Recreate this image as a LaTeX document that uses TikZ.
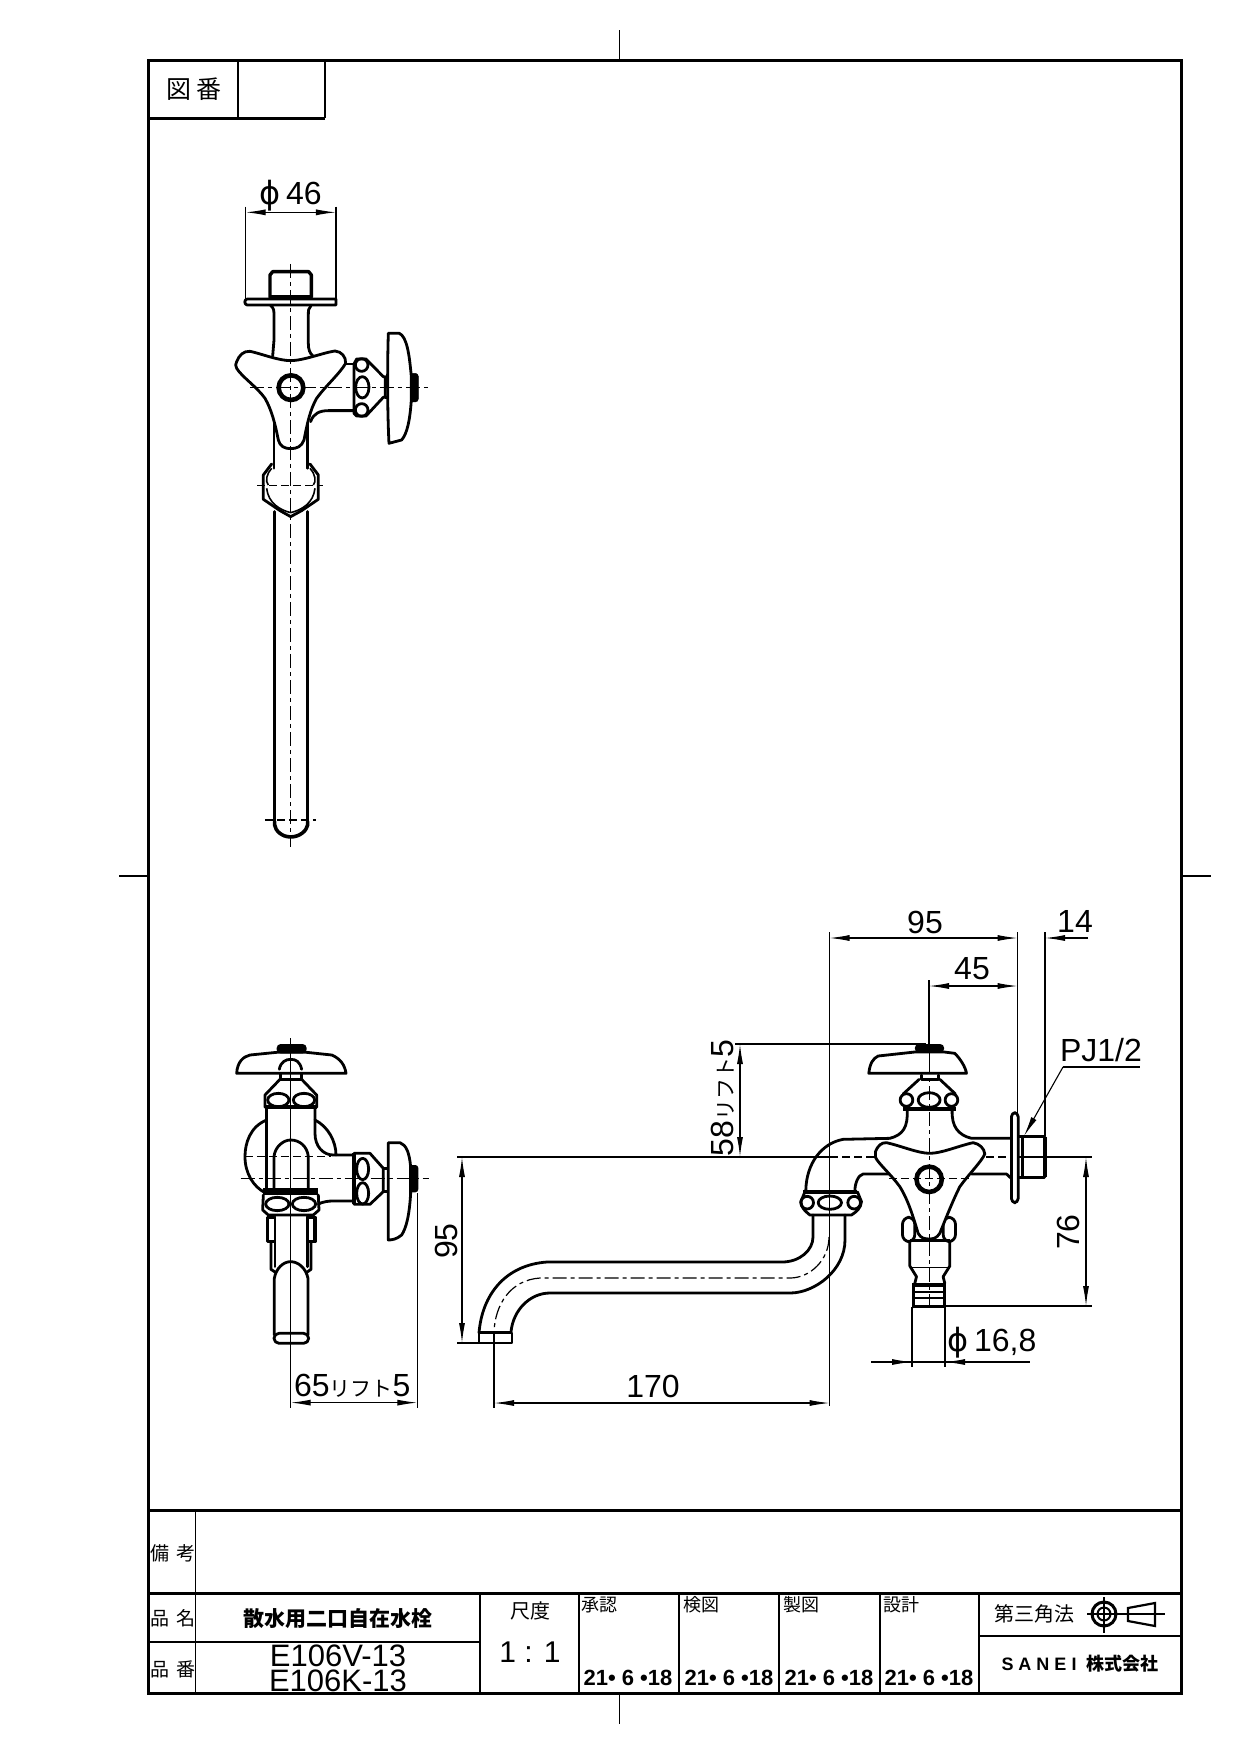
\documentclass[tikz,border=0pt]{standalone}
\usepackage{fontspec}
\setmainfont{Liberation Sans}
\newfontfamily\cjk{Noto Sans CJK JP}
\newfontfamily\djv{DejaVu Sans}
\usetikzlibrary{arrows.meta}
\tikzset{
 frm/.style={line width=3pt},
 cell/.style={line width=1.6pt},
 obj/.style={line width=2.8pt,line join=round,line cap=round},
 fat/.style={line width=4pt,line cap=butt},
 dimln/.style={line width=1.1pt},
 cen/.style={line width=1.2pt,dash pattern=on 14pt off 4pt on 4pt off 4pt},
 dsh/.style={line width=1.2pt,dash pattern=on 8pt off 4pt},
 tipa/.style={-{Latex[length=20pt,width=6pt]}},
 both/.style={{Latex[length=20pt,width=6pt]}-{Latex[length=20pt,width=6pt]}},
 dimtxt/.style={font=\fontsize{32}{32}\selectfont,inner sep=0pt},
 cjktxt/.style={font=\cjk\fontsize{19}{19}\selectfont,inner sep=0pt},
 datetxt/.style={font=\bfseries\fontsize{22}{22}\selectfont,inner sep=0pt},
}
\newcommand{\phisym}{{\djv ϕ}}
\begin{document}
\begin{tikzpicture}[x=1pt,y=-1pt]
\useasboundingbox (0,0) rectangle (1240,1754);
\fill[white] (0,0) rectangle (1240,1754);
% frame
\draw[frm] (148.5,60) rectangle (1181,1693);
\draw[line width=1.6pt] (619.5,30) -- (619.5,60);
\draw[line width=1.6pt] (619.5,1693) -- (619.5,1724);
\draw[line width=1.6pt] (119,876) -- (148,876);
\draw[line width=1.6pt] (1181,876) -- (1211,876);
% title box
\draw[cell] (238,60) -- (238,118);
\draw[cell] (325,60) -- (325,118);
\draw[line width=2.2pt] (148,118.5) -- (325,118.5);
\node[cjktxt,font=\cjk\fontsize{25}{25}\selectfont] (zuban) at (194,89) {図\,番};
% table
\draw[frm] (148,1510) -- (1181,1510);
\draw[frm] (148,1593) -- (1181,1593);
\draw[cell] (195.5,1510) -- (195.5,1693);
\draw[cell] (148,1642) -- (480,1642);
\draw[cell] (480,1593) -- (480,1693);
\draw[cell] (579,1593) -- (579,1693);
\draw[cell] (679,1593) -- (679,1693);
\draw[cell] (779,1593) -- (779,1693);
\draw[line width=1.6pt] (880,1593) -- (880,1693);
\draw[line width=2.2pt] (979,1593) -- (979,1693);
\draw[cell] (979,1636) -- (1181,1636);
\node[cjktxt,font=\cjk\fontsize{19}{19}\selectfont] (bikou) at (173,1553) {備\,\,考};
\node[cjktxt,font=\cjk\fontsize{19}{19}\selectfont] (hinmei) at (173,1618) {品\,\,名};
\node[cjktxt,font=\cjk\fontsize{19}{19}\selectfont] (hinban) at (173,1669) {品\,\,番};
\node[cjktxt,font=\cjk\bfseries\fontsize{21}{21}\selectfont] (title) at (338,1619) {散水用二口自在水栓};
\node[dimtxt,font=\fontsize{31}{31}\selectfont] (codeA) at (338,1656) {E106V-13};
\node[dimtxt,font=\fontsize{31}{31}\selectfont] (codeB) at (338,1681) {E106K-13};
\node[cjktxt,font=\cjk\fontsize{20}{20}\selectfont] (shakudo) at (530,1611) {尺度};
\node[dimtxt,font=\fontsize{30}{30}\selectfont] (scale) at (530,1652) {1 : 1};
\node[cjktxt,font=\cjk\fontsize{18}{18}\selectfont] (shonin) at (599,1605) {承認};
\node[cjktxt,font=\cjk\fontsize{18}{18}\selectfont] (kenzu) at (701,1605) {検図};
\node[cjktxt,font=\cjk\fontsize{18}{18}\selectfont] (seizu) at (801,1605) {製図};
\node[cjktxt,font=\cjk\fontsize{18}{18}\selectfont] (sekkei) at (901,1605) {設計};
\node[datetxt] (d1) at (628,1678) {21• 6 •18};
\node[datetxt] (d2) at (729,1678) {21• 6 •18};
\node[datetxt] (d3) at (829,1678) {21• 6 •18};
\node[datetxt] (d4) at (929,1678) {21• 6 •18};
\node[cjktxt,font=\cjk\fontsize{20}{20}\selectfont] (sanka) at (1034,1614) {第三角法};
\node[inner sep=0pt,font=\bfseries\fontsize{18}{18}\selectfont] (sanei) at (1080,1664) {S A N E I\; {\cjk 株式会社}};
% projection symbol
\draw[line width=3pt] (1104,1614) circle (12);
\draw[line width=2pt] (1104,1614) circle (6.5);
\draw[line width=1.2pt] (1087,1614) -- (1124,1614);
\draw[line width=1.2pt] (1104,1597) -- (1104,1633);
\draw[line width=2.2pt] (1128,1608) -- (1155,1603) -- (1155,1626) -- (1128,1621) -- cycle;
\draw[line width=1.2pt] (1122,1614) -- (1165,1614);

% ===== top-left view, zoom coordinates
\begin{scope}[shift={(200,160)},x=0.3333pt,y=-0.3333pt]
\draw[dimln] (137,140) -- (137,420);
\draw[dimln] (408,140) -- (408,420);
\draw[dimln,both] (137,157) -- (408,157);
\node[dimtxt] (d46) at (272,108) {\phisym\,46};
\draw[obj,line width=3.4pt] (210,412) -- (210,345) -- (218,335) -- (326,335) -- (334,345) -- (334,412);
\draw[fat] (210,411) -- (334,411);
\draw[obj] (142,417) -- (408,417) -- (408,435) -- (142,435) .. controls (132,435) and (132,417) .. (142,417);
\draw[obj] (212,437) .. controls (222,445) and (222,450) .. (222,470) -- (222,540) -- (218,588);
\draw[obj] (333,437) .. controls (325,445) and (325,450) .. (325,470) -- (325,550) .. controls (325,570) and (330,580) .. (338,587);
% handle
\draw[obj,fill=white] (110,605) .. controls (118,585) and (130,573) .. (150,574) .. controls (180,580) and (235,602) .. (272,602) .. controls (310,602) and (370,578) .. (405,573) .. controls (425,575) and (438,590) .. (437,610) .. controls (420,640) and (375,680) .. (350,715) .. controls (330,750) and (322,790) .. (312,840) .. controls (305,860) and (290,866) .. (272,866) .. controls (255,866) and (240,860) .. (235,840) .. controls (225,790) and (215,750) .. (195,715) .. controls (170,680) and (125,650) .. (110,625) .. controls (106,618) and (106,612) .. (110,605) -- cycle;
\draw[line width=4.6pt] (273,683) circle (37);
\draw[obj] (437,612) -- (465,612);
\draw[obj] (332,785) .. controls (340,760) and (360,752) .. (385,752) -- (465,752);
\draw[obj,fill=white] (462,612) -- (470,597) -- (498,597) -- (550,650) -- (556,650) -- (556,712) -- (550,712) -- (498,768) -- (470,768) -- (462,760) -- cycle;
\draw[obj] (485,615) circle (19);
\draw[obj] (487,682) ellipse (20 and 32);
\draw[obj] (485,750) circle (19);
\draw[obj] (556,652) -- (566,652);
\draw[obj] (556,712) -- (566,712);
\draw[fill=black,rounded corners=3pt] (628,640) rectangle (655,726);
\draw[obj,fill=white] (565,520) -- (598,520) .. controls (620,530) and (628,580) .. (634,650) -- (634,720) .. controls (630,780) and (622,820) .. (605,840) -- (567,850) .. controls (562,750) and (562,620) .. (565,520) -- cycle;
\draw[cen] (150,683) -- (685,683);
\draw[cen] (272,312) -- (272,2061);
% lower body
\draw[obj] (222,790) -- (222,925);
\draw[obj] (323,790) -- (323,925);
\draw[obj] (215,912) -- (190,945) -- (190,1018) -- (240,1052) -- (272,1070) -- (305,1052) -- (355,1018) -- (355,945) -- (330,912);
\draw[line width=1.6pt] (215,925) .. controls (200,940) and (195,965) .. (205,975);
\draw[line width=1.6pt] (330,925) .. controls (345,940) and (350,965) .. (340,975);
\draw[line width=1.6pt] (200,985) .. controls (205,1030) and (240,1050) .. (272,1058) .. controls (305,1050) and (340,1030) .. (345,985);
\draw[dsh] (172,977) -- (370,977);
\draw[obj,line width=3pt] (224,1055) -- (224,1985);
\draw[obj,line width=3pt] (323,1055) -- (323,1985);
\draw[obj,line width=3.6pt] (224,1985) -- (224,1995) .. controls (226,2012) and (245,2031) .. (272,2031) .. controls (300,2031) and (320,2012) .. (323,1995) -- (323,1985);
\draw[dsh] (195,1980) -- (348,1980);
\end{scope}

% ===== middle view
\begin{scope}[shift={(200,1020)},x=0.3333pt,y=-0.3333pt]
\draw[dimln] (272,55) -- (272,1165);
\draw[dimln] (652,520) -- (652,1165);
\draw[dimln,both] (272,1148) -- (652,1148);
\node[dimtxt,font=\fontsize{32}{32}\selectfont] (d65) at (457,1098) {65{\cjk\fontsize{21}{21}\selectfont リフト}5};
% large boss
\draw[obj] (200,300) .. controls (150,320) and (135,370) .. (135,410) .. controls (135,460) and (160,500) .. (195,518);
\draw[obj] (345,300) .. controls (385,320) and (408,365) .. (408,405);
% handle
\fill[rounded corners=4pt] (230,72) rectangle (320,100);
\draw[obj] (110,160) .. controls (112,125) and (130,110) .. (150,105) -- (230,97) -- (320,97) -- (395,105) .. controls (420,115) and (435,135) .. (438,160) -- cycle;
\draw[obj] (238,148) .. controls (242,125) and (258,118) .. (272,118) .. controls (288,118) and (300,125) .. (305,148);
\draw[obj] (242,162) -- (242,178);
\draw[obj] (305,162) -- (305,178) -- (240,178);
\draw[obj] (240,178) -- (195,225) -- (195,262);
\draw[obj] (305,178) -- (350,225) -- (350,262);
\draw[line width=4pt] (195,262) -- (350,262);
\draw[obj] (235,240) ellipse (32 and 20);
\draw[obj] (312,240) ellipse (32 and 20);
% body
\draw[obj] (200,265) -- (200,508);
\draw[obj] (345,265) -- (345,340) .. controls (345,380) and (370,405) .. (400,405) -- (462,405);
\draw[obj] (222,505) -- (222,410) .. controls (225,380) and (250,360) .. (272,360) .. controls (300,360) and (322,380) .. (325,410) -- (325,505);
\draw[obj] (355,552) .. controls (370,545) and (385,543) .. (400,543) -- (462,543);
% side nut
\draw[obj] (462,400) -- (510,400) -- (550,445) -- (550,515) -- (510,553) -- (462,553) -- cycle;
\draw[line width=4pt] (462,400) -- (462,553);
\draw[obj] (488,447) ellipse (18 and 32);
\draw[obj] (488,520) ellipse (18 and 32);
\draw[obj] (550,446) -- (563,446);
\draw[obj] (550,514) -- (563,514);
\fill[rounded corners=3pt] (628,435) rectangle (655,517);
\draw[obj,fill=white] (565,368) -- (600,368) .. controls (620,375) and (628,400) .. (632,440) -- (632,520) .. controls (628,590) and (618,625) .. (605,645) .. controls (590,658) and (575,660) .. (565,660) -- cycle;
% lower nut
\fill (190,505) rectangle (355,526);
\draw[obj] (190,525) -- (188,570) -- (205,585) -- (340,585) -- (357,570) -- (355,525);
\draw[obj] (232,552) ellipse (35 and 20);
\draw[obj] (312,552) ellipse (35 and 20);
% lower tube
\draw[obj] (225,590) -- (225,740);
\draw[obj] (322,590) -- (322,740);
\draw[obj,line width=3.4pt] (222,592) -- (203,592) -- (203,665) -- (222,665);
\draw[obj,line width=3.4pt] (325,592) -- (345,592) -- (345,665) -- (325,665);
\draw[obj] (213,665) -- (213,748) -- (225,756);
\draw[obj] (333,665) -- (333,748) -- (322,756);
\draw[obj] (223,945) -- (223,775) .. controls (228,745) and (250,725) .. (272,725) .. controls (295,725) and (318,745) .. (324,775) -- (324,945);
\draw[obj,rounded corners=5pt] (222,940) rectangle (326,970);
% centres
\draw[dsh] (135,410) -- (392,410);
\draw[cen] (122,476) -- (688,476);
\draw[cen] (272,130) -- (272,960);
\end{scope}

% ===== main view, absolute
\draw[dimln] (457,1157) -- (830,1157);
\draw[dimln] (1017,1157) -- (1092,1157);
\draw[dsh] (830,1157) -- (1017,1157);
\draw[dimln] (829.5,932) -- (829.5,1406);
\draw[dimln,both] (829.5,938) -- (1017.5,938);
\node[dimtxt] (d95a) at (925,922) {95};
\draw[dimln] (1045,932) -- (1045,1136);
\draw[dimln,tipa] (1088,938) -- (1045,938);
\node[dimtxt] (d14) at (1075,921) {14};
\draw[line width=1.6pt] (1017.5,932) -- (1017.5,1113);
\draw[dimln] (929,980) -- (929,1044);
\draw[dimln,both] (929,986) -- (1017.5,986);
\node[dimtxt] (d45) at (972,969) {45};
\draw[line width=1.5pt] (735,1044) -- (926,1044);
\draw[dimln,both] (740,1044) -- (740,1157);
\node[dimtxt,rotate=90] (d58) at (723,1098) {58{\cjk\fontsize{21}{21}\selectfont リフト}5};
\node[dimtxt] (pj) at (1101,1050) {PJ1/2};
\coordinate (pja) at (1063,1067);
\coordinate (pjb) at (1140,1067);
\coordinate (pjc) at (1024,1136);
\draw[dimln] (pja) -- (pjb);
\draw[dimln,tipa] (pja) -- (pjc);
\draw[dimln,both] (462,1157) -- (462,1343);
\draw[dimln] (457,1343) -- (482,1343);
\node[dimtxt,rotate=90] (d95b) at (446,1241) {95};
\draw[dimln] (494,1333) -- (494,1408);
\draw[dimln,both] (494,1403) -- (829.5,1403);
\node[dimtxt] (d170) at (653,1386) {170};
\draw[dimln,both] (1086,1157) -- (1086,1306);
\draw[dimln] (945,1306) -- (1092,1306);
\node[dimtxt,rotate=90] (d76) at (1068,1232) {76};
\draw[dimln] (912,1307) -- (912,1367);
\draw[dimln] (945,1307) -- (945,1367);
\draw[dimln,tipa] (892,1362) -- (912,1362);
\draw[dimln,tipa] (966,1362) -- (945,1362);
\draw[dimln] (871,1362) -- (1030,1362);
\node[dimtxt] (d168) at (992,1343) {\phisym\,16,8};
% spout
\draw[obj] (813,1215) -- (813,1237) .. controls (813,1250) and (800,1262) .. (782,1262) -- (547,1262) .. controls (505,1265) and (482,1295) .. (479,1333);
\draw[obj] (845,1215) -- (845,1240) .. controls (845,1270) and (815,1293) .. (790,1293) -- (550,1293) .. controls (530,1293) and (513,1310) .. (511,1332);
\draw[cen] (829,1237) .. controls (829,1260) and (810,1278) .. (790,1278) -- (540,1278) .. controls (510,1280) and (495,1305) .. (494,1332);
\draw[obj,line width=2.2pt] (479,1333) -- (479,1343) -- (512,1343) -- (512,1333);
\draw[line width=3pt] (479,1332.5) -- (512,1332.5);

\begin{scope}[shift={(761.5,1020)},x=0.3333pt,y=-0.3333pt]
% handle
\fill[rounded corners=4pt] (460,72) rectangle (548,98);
\draw[obj] (322,160) .. controls (325,130) and (335,115) .. (350,108) -- (460,96) -- (548,96) -- (580,100) .. controls (595,115) and (612,140) .. (615,160) -- cycle;
\draw[obj] (480,165) -- (480,178) -- (530,178) -- (530,165);
\draw[obj] (473,178) -- (425,222);
\draw[obj] (535,178) -- (582,222);
\draw[obj] (435,240) circle (19);
\draw[obj] (570,240) circle (19);
\draw[obj] (503,240) ellipse (33 and 22);
\draw[line width=4pt] (425,266) -- (585,266);
% body
\draw[obj] (437,270) .. controls (440,320) and (425,345) .. (385,355) -- (245,358) .. controls (180,370) and (135,430) .. (133,510);
\draw[obj] (572,270) .. controls (570,320) and (590,345) .. (630,355) -- (745,355);
\draw[obj] (385,462) -- (305,462) .. controls (290,465) and (280,490) .. (280,515);
\draw[obj] (630,462) -- (735,462) -- (750,476);
% flange and fitting
\draw[obj,fill=white,rounded corners=4pt] (750,278) rectangle (770,548);
\draw[obj] (772,350) -- (850,350) -- (850,472) -- (772,472);
\draw[line width=4pt] (850,350) -- (850,472);
\draw[obj] (782,350) -- (782,472);
% lugs
\draw[obj,fill=white,rounded corners=7pt] (423,592) rectangle (460,665);
\draw[obj,fill=white,rounded corners=7pt] (545,592) rectangle (582,665);
% threefold handle
\draw[obj,fill=white] (342,395) .. controls (350,375) and (360,368) .. (375,368) .. controls (420,378) and (470,400) .. (505,400) .. controls (540,400) and (590,378) .. (635,368) .. controls (655,372) and (668,385) .. (670,402) .. controls (660,425) and (620,465) .. (595,500) .. controls (575,540) and (555,590) .. (535,640) .. controls (525,655) and (515,657) .. (503,657) .. controls (490,657) and (478,655) .. (470,640) .. controls (455,590) and (440,540) .. (415,500) .. controls (390,465) and (350,430) .. (342,412) -- cycle;
\draw[line width=4.6pt] (503,478) circle (38);
\draw[dsh] (382,476) -- (628,476);
% lower fitting
\draw[line width=3.6pt] (445,662) -- (565,662);
\draw[obj] (445,668) -- (445,738) -- (465,770) -- (460,790);
\draw[obj] (565,668) -- (565,738) -- (545,770) -- (550,790);
\draw[line width=1.6pt] (445,742) -- (565,742);
\draw[line width=4pt] (452,795) -- (553,795);
\draw[line width=2pt] (455,815) -- (550,815);
\draw[line width=2pt] (455,835) -- (550,835);
\draw[line width=2.4pt] (455,860) -- (550,860);
\draw[obj] (455,800) -- (455,860);
\draw[obj] (550,800) -- (550,860);
% swivel nut
\draw[line width=4pt] (125,516) -- (288,516);
\draw[obj] (130,516) -- (118,545) .. controls (120,565) and (130,572) .. (145,585) -- (270,585) .. controls (285,575) and (298,565) .. (300,545) -- (288,516);
\draw[obj] (137,548) circle (19);
\draw[obj] (278,548) circle (19);
\draw[obj] (205,548) ellipse (35 and 20);
\draw[cen] (503,120) -- (503,875);
\draw[dimln] (503,-120) -- (503,120);
\end{scope}
\end{tikzpicture}
\end{document}
